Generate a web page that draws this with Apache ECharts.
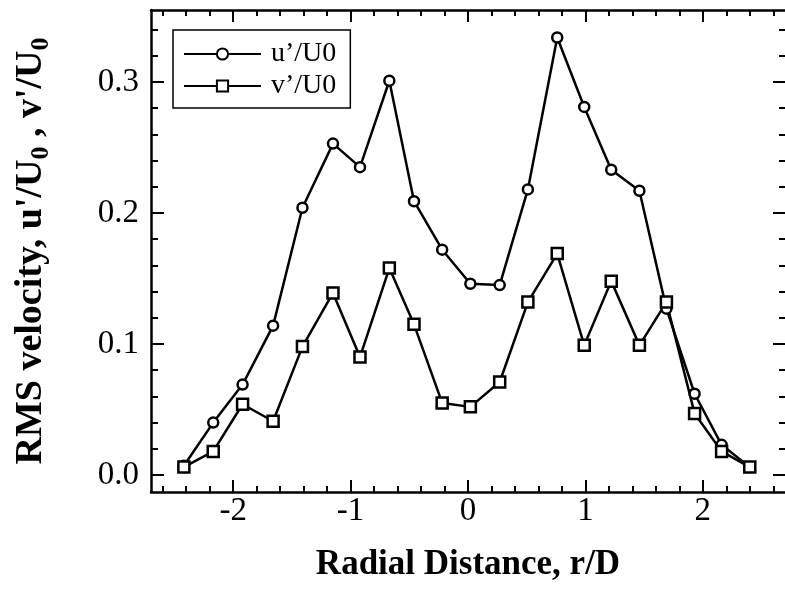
<!DOCTYPE html>
<html>
<head>
<meta charset="utf-8">
<script src="https://cdn.jsdelivr.net/npm/echarts@6/dist/echarts.min.js"></script>
<style>
html,body{margin:0;padding:0;background:#fff;}
#c{width:785px;height:590px;}
</style>
</head>
<body>
<div id="c"></div>
<script>
// Radial positions r/D
var rD = [-2.42, -2.17, -1.92, -1.66, -1.41, -1.15, -0.92, -0.67, -0.46, -0.22, 0.02, 0.27, 0.51, 0.76, 0.99, 1.22, 1.46, 1.69, 1.93, 2.16, 2.40];
// u'/U0
var uPrime = [0.007, 0.040, 0.069, 0.114, 0.204, 0.253, 0.235, 0.301, 0.209, 0.172, 0.146, 0.145, 0.218, 0.334, 0.281, 0.233, 0.217, 0.127, 0.062, 0.023, 0.006];
// v'/U0
var vPrime = [0.006, 0.018, 0.054, 0.041, 0.098, 0.139, 0.090, 0.158, 0.115, 0.055, 0.052, 0.071, 0.132, 0.169, 0.099, 0.148, 0.099, 0.132, 0.047, 0.018, 0.006];

var xMajor = [-2, -1, 0, 1, 2];
var xMinor = [-2.6, -2.4, -2.2, -1.8, -1.6, -1.4, -1.2, -0.8, -0.6, -0.4, -0.2, 0.2, 0.4, 0.6, 0.8, 1.2, 1.4, 1.6, 1.8, 2.2, 2.4, 2.6];
var yMajor = [0, 0.1, 0.2, 0.3];
var yMinor = [0.02, 0.04, 0.06, 0.08, 0.12, 0.14, 0.16, 0.18, 0.22, 0.24, 0.26, 0.28, 0.32, 0.34];

var seriesNames = ['u\u2019/U0', 'v\u2019/U0'];

var X_MIN = -2.7, X_MAX = 2.7, Y_MIN = -0.013, Y_MAX = 0.355;
var SERIF = '"Liberation Serif", "DejaVu Serif", serif';

function pairs(xs, ys) { return xs.map(function (x, i) { return [x, ys[i]]; }); }

function xAxisDef(pos, ticks, len, showLine, labels) {
  return {
    type: 'value', position: pos, min: X_MIN, max: X_MAX, gridIndex: 0,
    axisLine: { show: showLine, onZero: false, lineStyle: { color: '#000', width: 2.5 } },
    axisTick: { show: true, inside: true, length: len, customValues: ticks, lineStyle: { color: '#000', width: 2 } },
    axisLabel: labels ? { show: true, customValues: xMajor, color: '#000', fontFamily: SERIF, fontSize: 33, margin: 3 } : { show: false },
    splitLine: { show: false }
  };
}
function yAxisDef(pos, ticks, len, showLine, labels) {
  return {
    type: 'value', position: pos, min: Y_MIN, max: Y_MAX, gridIndex: 0,
    axisLine: { show: showLine, onZero: false, lineStyle: { color: '#000', width: 2.5 } },
    axisTick: { show: true, inside: true, length: len, customValues: ticks, lineStyle: { color: '#000', width: 2 } },
    axisLabel: labels ? { show: true, customValues: yMajor, color: '#000', fontFamily: SERIF, fontSize: 33, margin: 12,
      formatter: function (v) { return v.toFixed(1); } } : { show: false },
    splitLine: { show: false }
  };
}

var xBottom = xAxisDef('bottom', xMajor, 12, true, true);
xBottom.name = 'Radial Distance, r/D';
xBottom.nameLocation = 'middle';
xBottom.nameGap = 55;
xBottom.nameTextStyle = { fontFamily: SERIF, fontWeight: 'bold', fontSize: 35, color: '#000' };

var yLeft = yAxisDef('left', yMajor, 13, true, true);
yLeft.name = 'RMS velocity, u\'/U{s|0} , v\'/U{s|0}';
yLeft.nameLocation = 'middle';
yLeft.nameGap = 97;
yLeft.nameRotate = 90;
yLeft.nameTextStyle = {
  fontFamily: SERIF, fontWeight: 'bold', fontSize: 38, color: '#000', lineHeight: 46,
  rich: { s: { fontFamily: SERIF, fontWeight: 'bold', fontSize: 26, lineHeight: 26, verticalAlign: 'bottom', color: '#000' } }
};

var option = {
  animation: false,
  backgroundColor: '#fff',
  grid: { left: 147, top: 10, right: -5, bottom: 98, containLabel: false },
  legend: {
    left: 173, top: 30, orient: 'vertical',
    padding: [8, 14, 6, 10], itemGap: 0,
    itemWidth: 77, itemHeight: 14,
    borderColor: '#000', borderWidth: 1.5, backgroundColor: '#fff',
    textStyle: { fontFamily: SERIF, fontSize: 28, color: '#000', lineHeight: 32, padding: [0, 0, 0, 5] },
    data: seriesNames
  },
  xAxis: [
    xBottom,
    xAxisDef('bottom', xMinor, 6, false, false),
    xAxisDef('top', xMajor, 12, true, false),
    xAxisDef('top', xMinor, 6, false, false)
  ],
  yAxis: [
    yLeft,
    yAxisDef('left', yMinor, 7, false, false),
    yAxisDef('right', yMajor, 12, false, false),
    yAxisDef('right', yMinor, 6, false, false)
  ],
  series: [
    {
      name: seriesNames[0], type: 'line', xAxisIndex: 0, yAxisIndex: 0,
      data: pairs(rD, uPrime),
      symbol: 'circle', symbolSize: 10,
      lineStyle: { color: '#000', width: 2.5 },
      itemStyle: { color: '#fff', borderColor: '#000', borderWidth: 2.5 },
      z: 3
    },
    {
      name: seriesNames[1], type: 'line', xAxisIndex: 0, yAxisIndex: 0,
      data: pairs(rD, vPrime),
      symbol: 'rect', symbolSize: 11,
      lineStyle: { color: '#000', width: 2.5 },
      itemStyle: { color: '#fff', borderColor: '#000', borderWidth: 2.5 },
      z: 3
    }
  ]
};

var chart = echarts.init(document.getElementById('c'), null, { renderer: 'canvas' });
chart.setOption(option);
</script>
</body>
</html>
